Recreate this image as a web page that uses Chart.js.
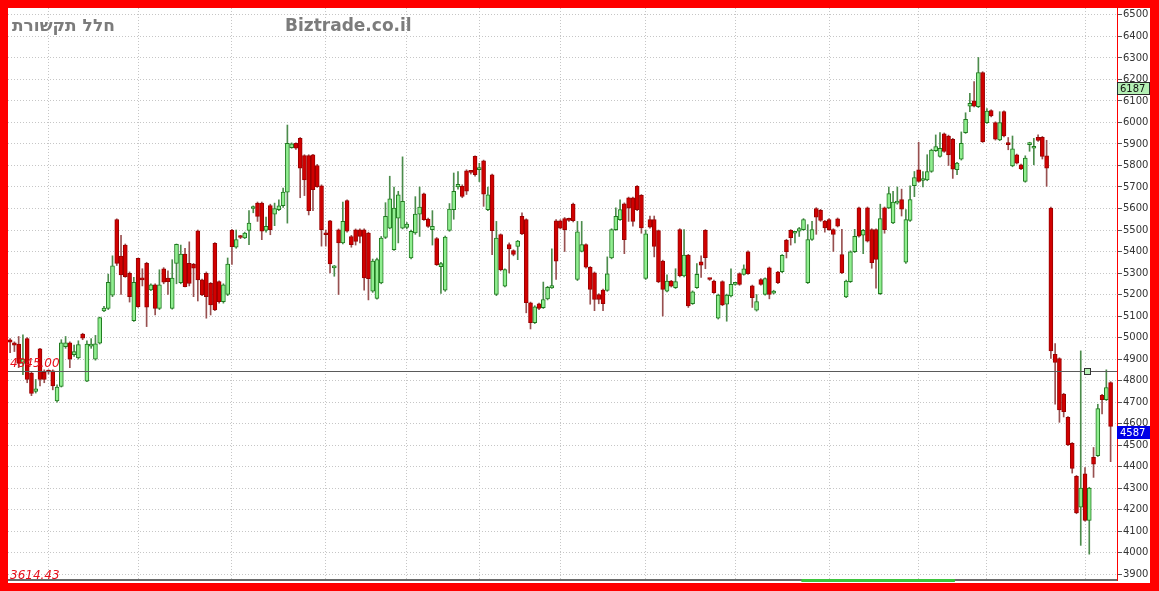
<!DOCTYPE html>
<html>
<head>
<meta charset="utf-8">
<script src="https://cdn.jsdelivr.net/npm/chart.js@4.4.1/dist/chart.umd.min.js"></script>
<style>
  html, body { margin: 0; padding: 0; width: 1159px; height: 591px; overflow: hidden; background: #ff0000; }
  #wrap { position: absolute; left: 8px; top: 8px; width: 1142px; height: 575px; background: #fff; }
</style>
</head>
<body>
<div id="wrap"><canvas id="chart" width="1142" height="575"></canvas></div>
<script>
// ── Data (daily candles) ───────────────────────────────────
const opens = [
  4990,4975,4970,4880,4995,4835,4750,4948,4838,4842,
  4845,4705,4773,4958,4975,4920,4905,5016,4797,4960,
  4900,4974,5124,5136,5197,5549,5379,5430,5299,5078,
  5368,5270,5345,5222,5245,5136,5319,5276,5136,5345,
  5255,5388,5345,5340,5496,5268,5299,5252,5438,5260,
  5167,5201,5499,5420,5470,5463,5498,5600,5625,5625,
  5498,5613,5574,5594,5613,5676,5883,5903,5926,5846,
  5846,5849,5800,5705,5480,5543,5324,5501,5440,5637,
  5470,5501,5501,5501,5486,5216,5182,5254,5466,5509,
  5409,5555,5509,5512,5370,5486,5574,5668,5551,5501,
  5460,5329,5220,5498,5595,5700,5703,5775,5770,5842,
  5780,5822,5595,5757,5201,5479,5239,5432,5404,5424,
  5564,5548,5162,5069,5157,5139,5180,5231,5543,5543,
  5553,5548,5621,5270,5401,5432,5327,5301,5200,5221,
  5219,5370,5502,5548,5622,5649,5649,5703,5661,5275,
  5548,5548,5497,5355,5216,5262,5232,5502,5286,5383,
  5158,5232,5352,5498,5272,5263,5090,5260,5155,5193,
  5247,5297,5294,5399,5240,5127,5270,5201,5324,5206,
  5304,5306,5453,5498,5485,5494,5502,5255,5456,5600,
  5592,5541,5549,5502,5552,5386,5189,5260,5399,5603,
  5476,5603,5502,5502,5204,5603,5603,5533,5625,5641,
  5350,5545,5706,5780,5730,5733,5772,5869,5842,5947,
  5937,5922,5780,5829,5953,6076,6101,6073,6232,5999,
  6055,5999,5919,6050,5899,5798,5849,5803,5726,5897,
  5880,5931,5931,5845,5602,4922,4902,4737,4629,4508,
  4355,4212,4366,4150,4443,4451,4732,4711,4791
];
const highs = [
  4995,4980,5005,5013,5000,4840,4805,4950,4850,4850,
  4850,4780,4990,5005,4980,4965,4985,5020,4985,4995,
  5010,5095,5145,5295,5380,5552,5475,5435,5305,5280,
  5370,5320,5350,5250,5250,5315,5325,5310,5362,5435,
  5430,5415,5445,5345,5500,5272,5305,5256,5442,5264,
  5250,5370,5503,5500,5475,5490,5590,5612,5630,5630,
  5560,5620,5625,5640,5695,5988,5905,5905,5930,5850,
  5850,5852,5805,5710,5500,5545,5335,5505,5630,5640,
  5475,5505,5505,5505,5490,5365,5370,5470,5627,5750,
  5700,5680,5840,5535,5500,5655,5700,5672,5555,5590,
  5465,5350,5472,5623,5765,5772,5710,5780,5775,5845,
  5810,5825,5700,5760,5540,5482,5320,5440,5408,5452,
  5580,5552,5165,5148,5160,5258,5238,5412,5548,5548,
  5558,5555,5625,5540,5540,5436,5330,5305,5204,5225,
  5375,5506,5603,5640,5626,5653,5653,5707,5665,5500,
  5565,5565,5500,5360,5292,5266,5320,5506,5502,5387,
  5217,5344,5380,5502,5276,5267,5202,5264,5202,5320,
  5253,5301,5338,5403,5244,5200,5274,5278,5328,5220,
  5308,5386,5457,5502,5493,5512,5553,5525,5540,5604,
  5596,5545,5553,5506,5556,5503,5267,5403,5503,5607,
  5503,5607,5506,5506,5620,5607,5700,5680,5700,5690,
  5595,5705,5772,5908,5772,5850,5876,5942,5953,5951,
  5941,5926,5815,5956,6045,6135,6190,6302,6236,6065,
  6059,6003,6050,6054,5930,5937,5853,5807,5845,5908,
  5926,5942,5935,5917,5606,4972,4906,4741,4633,4512,
  4359,4938,4396,4304,4489,4690,4736,4850,4795
];
const lows = [
  4930,4935,4860,4827,4790,4730,4742,4775,4790,4830,
  4757,4700,4770,4950,4860,4912,4900,4990,4795,4950,
  4895,4970,5120,5130,5190,5335,5200,5280,5165,5075,
  5140,5240,5051,5218,5105,5130,5250,5200,5132,5250,
  5250,5235,5240,5190,5170,5195,5090,5105,5125,5160,
  5160,5195,5340,5415,5460,5460,5432,5580,5540,5455,
  5490,5478,5520,5590,5605,5532,5880,5875,5650,5660,
  5570,5590,5698,5425,5425,5300,5285,5200,5435,5490,
  5420,5430,5440,5220,5175,5210,5178,5250,5460,5505,
  5405,5440,5505,5505,5365,5480,5470,5545,5512,5430,
  5335,5205,5215,5494,5550,5690,5650,5665,5760,5750,
  5725,5610,5590,5385,5195,5310,5235,5300,5380,5362,
  5478,5115,5040,5065,5130,5135,5175,5228,5270,5505,
  5400,5540,5538,5265,5398,5323,5155,5125,5157,5125,
  5215,5366,5498,5544,5390,5540,5518,5590,5485,5270,
  5508,5375,5255,5100,5212,5235,5228,5282,5282,5140,
  5154,5228,5280,5320,5266,5205,5086,5148,5076,5189,
  5243,5243,5290,5293,5140,5123,5243,5197,5180,5202,
  5251,5302,5370,5430,5440,5470,5498,5251,5452,5480,
  5540,5490,5498,5400,5514,5297,5185,5256,5395,5467,
  5390,5444,5322,5230,5200,5485,5599,5529,5620,5565,
  5345,5540,5655,5722,5700,5729,5768,5865,5838,5861,
  5800,5740,5757,5825,5949,6050,6072,6069,5907,5995,
  6026,5918,5915,5933,5873,5794,5807,5780,5722,5866,
  5803,5912,5830,5703,4903,4690,4606,4631,4497,4370,
  4181,4034,4146,3993,4350,4447,4645,4707,4423
];
const closes = [
  4978,4965,4880,4900,4805,4740,4762,4805,4805,4840,
  4775,4770,4975,4975,4900,4935,4967,4997,4970,4968,
  4971,5093,5137,5257,5333,5345,5291,5283,5190,5257,
  5144,5268,5141,5245,5136,5245,5257,5260,5276,5433,
  5388,5237,5252,5322,5268,5198,5190,5152,5129,5167,
  5245,5342,5422,5455,5465,5486,5532,5602,5563,5494,
  5517,5501,5600,5612,5676,5903,5900,5880,5787,5733,
  5590,5687,5702,5501,5478,5342,5331,5440,5540,5494,
  5432,5447,5470,5277,5274,5355,5362,5463,5563,5645,
  5602,5664,5633,5528,5494,5574,5606,5548,5517,5517,
  5339,5344,5467,5597,5680,5712,5656,5680,5768,5757,
  5790,5667,5664,5497,5463,5316,5316,5412,5386,5448,
  5482,5162,5069,5143,5136,5177,5234,5242,5355,5509,
  5502,5545,5543,5491,5432,5327,5224,5177,5177,5157,
  5296,5502,5564,5595,5455,5602,5540,5595,5510,5482,
  5513,5424,5259,5224,5262,5239,5260,5286,5383,5147,
  5213,5294,5337,5371,5270,5209,5198,5152,5198,5247,
  5249,5247,5320,5297,5186,5167,5247,5274,5201,5216,
  5255,5382,5399,5464,5489,5507,5549,5456,5502,5560,
  5544,5510,5502,5479,5518,5301,5263,5399,5471,5471,
  5499,5448,5348,5363,5553,5502,5669,5630,5632,5597,
  5548,5641,5744,5726,5737,5772,5872,5888,5880,5865,
  5849,5783,5811,5903,6015,6089,6076,6232,5911,6053,
  6030,5922,5999,5937,5897,5877,5811,5784,5834,5901,
  5884,5916,5842,5787,4938,4884,4664,4655,4501,4392,
  4185,4300,4150,4300,4412,4670,4711,4768,4587
];

// axis ticks
const yTicks = [3900,4000,4100,4200,4300,4400,4500,4600,4700,4800,4900,5000,5100,
                5200,5300,5400,5500,5600,5700,5800,5900,6000,6100,6200,6300,6400,6500];
const yMin = 3873, yMax = 6532;
// candle indices where the month grid lines fall
const xGrid = [9, 30, 52, 74, 93, 110, 129, 149, 170, 192, 213, 229, 252];

// levels / labels
const titleHe = 'חלל תקשורת';
const titleSite = 'Biztrade.co.il';
const lineLevel = 4845;       // horizontal line
const lineLabel = '4845.00';
const lineHandleIdx = 252.5;
const lowLabel = '3614.43';
const refPrice = 6187;        // green tag
const lastPrice = 4587;       // blue tag
const scrollRange = [185.5, 221.5]; // green strip on the time axis

const n = opens.length;
const up = closes.map((c, i) => c > opens[i]);
const bodies = opens.map((o, i) => ({ x: i, y: [o, closes[i]] }));
const wicks = lows.map((l, i) => ({ x: i, y: [l, highs[i]] }));

// ── Overlay: watermark, level line, price tags ─────────────
const overlay = {
  id: 'overlay',
  beforeDatasetsDraw(chart) {
    const ctx = chart.ctx;
    ctx.save();
    ctx.font = 'bold 17px "DejaVu Sans"';
    ctx.fillStyle = '#7c7c7c';
    ctx.textBaseline = 'middle';
    ctx.textAlign = 'left';
    ctx.fillText(titleHe, 4, 19);
    ctx.fillText(titleSite, 277, 19);
    ctx.restore();
  },
  afterDatasetsDraw(chart) {
    const { ctx, chartArea: a, scales: { x, y } } = chart;
    const yl = Math.round(y.getPixelForValue(lineLevel)) + 0.5;
    ctx.save();
    ctx.strokeStyle = '#5a5a5a';
    ctx.lineWidth = 1.2;
    ctx.beginPath();
    ctx.moveTo(a.left, yl);
    ctx.lineTo(a.right, yl);
    ctx.stroke();
    // handle
    const hx = Math.round(x.getPixelForValue(lineHandleIdx)) + 0.5;
    ctx.fillStyle = '#b8f0b8';
    ctx.strokeStyle = '#333';
    ctx.lineWidth = 1;
    ctx.fillRect(hx - 3, yl - 3, 6, 6);
    ctx.strokeRect(hx - 3, yl - 3, 6, 6);
    // red labels
    ctx.font = 'italic 12px "DejaVu Sans"';
    ctx.fillStyle = '#e8101c';
    ctx.textAlign = 'left';
    ctx.textBaseline = 'alphabetic';
    ctx.fillText(lineLabel, a.left + 2, yl - 5);
    ctx.fillText(lowLabel, a.left + 2, a.bottom - 1);
    ctx.restore();
  },
  afterDraw(chart) {
    const { ctx, chartArea: a, scales: { x, y } } = chart;
    const tag = (v, bg, fg, bd) => {
      const ty = Math.round(y.getPixelForValue(v));
      ctx.fillStyle = bg;
      ctx.fillRect(a.right, ty, 33, 13);
      ctx.strokeStyle = bd;
      ctx.lineWidth = 1;
      ctx.strokeRect(a.right + 0.5, ty + 0.5, 32, 12);
      ctx.fillStyle = fg;
      ctx.font = '10px "DejaVu Sans"';
      ctx.textBaseline = 'middle';
      ctx.textAlign = 'left';
      ctx.fillText(String(v), a.right + 3, ty + 7);
    };
    ctx.save();
    tag(refPrice, '#b4f0b4', '#111', '#2a2a2a');
    tag(lastPrice, '#0000e6', '#fff', '#0000e6');
    // green strip on the time axis
    const sx1 = x.getPixelForValue(scrollRange[0]);
    const sx2 = x.getPixelForValue(scrollRange[1]);
    ctx.fillStyle = '#3cc43c';
    ctx.fillRect(sx1, a.bottom - 1, sx2 - sx1, 3);
    ctx.restore();
  }
};

new Chart(document.getElementById('chart'), {
  type: 'bar',
  data: {
    datasets: [
      {
        data: bodies,
        backgroundColor: up.map(u => u ? '#90ee90' : '#d10000'),
        borderColor: up.map(u => u ? '#1f7a1f' : '#9a0000'),
        borderWidth: 1,
        borderSkipped: false,
        barThickness: 4,
        minBarLength: 2,
        grouped: false,
        order: 0
      },
      {
        data: wicks,
        backgroundColor: up.map(u => u ? '#4c8c4c' : '#985050'),
        borderWidth: 0,
        barThickness: 1,
        grouped: false,
        order: 1
      }
    ]
  },
  options: {
    responsive: false,
    animation: false,
    devicePixelRatio: 1,
    layout: { padding: 0 },
    plugins: { legend: { display: false }, tooltip: { enabled: false } },
    scales: {
      x: {
        type: 'linear', min: -0.5, max: n + 0.5, offset: false,
        afterBuildTicks: s => { s.ticks = xGrid.map(v => ({ value: v })); },
        afterFit: s => { s.height = 3; s.paddingLeft = 0; s.paddingRight = 0; },
        ticks: { display: false },
        grid: { color: '#c6c6c6', drawTicks: false, offset: false },
        border: { color: '#6a6a6a', width: 2, dash: [1, 2] }
      },
      y: {
        position: 'right', min: yMin, max: yMax,
        afterBuildTicks: s => { s.ticks = yTicks.map(v => ({ value: v })); },
        afterFit: s => { s.width = 33; s.paddingTop = 0; s.paddingBottom = 0; },
        ticks: {
          font: { family: 'DejaVu Sans', size: 10 }, color: '#333', padding: 1,
          callback: v => String(v)
        },
        grid: { color: '#c6c6c6', tickLength: 5, tickColor: '#555' },
        border: { color: '#ff0000', width: 1, dash: [1, 2] }
      }
    }
  },
  plugins: [overlay]
});
</script>
</body>
</html>
